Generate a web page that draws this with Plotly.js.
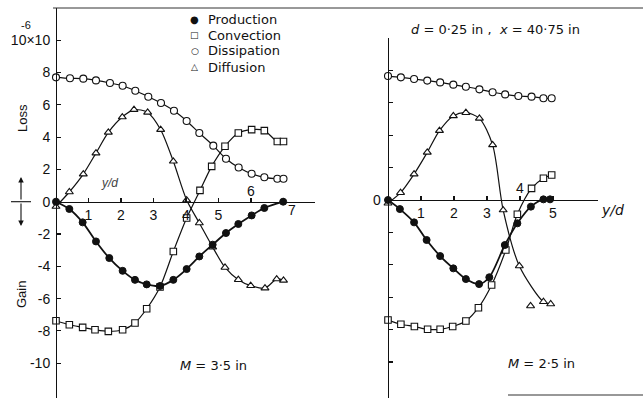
<!DOCTYPE html>
<html>
<head>
<meta charset="utf-8">
<script src="https://cdn.plot.ly/plotly-3.0.1.min.js"></script>
<style>
  html, body { margin: 0; padding: 0; background: #fff; }
  #chart { width: 643px; height: 398px; }
</style>
</head>
<body>
<div id="chart"></div>
<script>
// Turbulent energy balance across the wake, two mesh sizes (values in units of 10^-6)

// --- M = 3.5 in ---
const prodX_A = [0, 0.41, 0.82, 1.23, 1.64, 2.05, 2.43, 2.79, 3.2, 3.61, 4.02, 4.41, 4.82, 5.23, 5.61, 6.02, 6.41, 6.99];
const prodY_A = [0, -0.45, -1.28, -2.46, -3.49, -4.28, -4.84, -5.12, -5.22, -4.84, -4.17, -3.39, -2.66, -1.94, -1.38, -0.85, -0.39, 0];

const convX_A = [0, 0.41, 0.82, 1.2, 1.61, 2.05, 2.43, 2.79, 3.2, 3.61, 4.02, 4.43, 4.79, 5.2, 5.61, 6.02, 6.41, 6.81, 7.0];
const convY_A = [-7.37, -7.62, -7.78, -7.93, -8.03, -7.93, -7.51, -6.63, -5.28, -3.08, -1.01, 0.7, 2.19, 3.43, 4.25, 4.46, 4.4, 3.73, 3.73];

const dissX_A = [0, 0.43, 0.84, 1.23, 1.66, 2.05, 2.44, 2.84, 3.23, 3.63, 4.02, 4.41, 4.84, 5.23, 5.62, 6.02, 6.41, 6.81, 7.0];
const dissY_A = [7.7, 7.64, 7.62, 7.51, 7.35, 7.18, 6.87, 6.5, 6.11, 5.63, 5.0, 4.25, 3.47, 2.66, 2.12, 1.73, 1.51, 1.42, 1.42];

const diffX_A = [0, 0.41, 0.84, 1.23, 1.61, 2.04, 2.4, 2.82, 3.22, 3.61, 4.02, 4.41, 4.82, 5.2, 5.61, 5.99, 6.43, 6.79, 7.0];
const diffY_A = [-0.3, 0.6, 1.71, 3.01, 4.29, 5.24, 5.7, 5.53, 4.46, 2.5, 0.1, -1.32, -2.81, -4.07, -4.83, -5.2, -5.35, -4.79, -4.87];

// --- M = 2.5 in ---
const prodX_B = [0, 0.36, 0.79, 1.17, 1.58, 1.98, 2.36, 2.76, 3.07, 3.54, 3.92, 4.33, 4.71, 4.91];
const prodY_B = [0, -0.56, -1.38, -2.47, -3.46, -4.22, -4.88, -5.19, -4.77, -2.78, -1.44, -0.41, 0.04, 0.04];

const convX_B = [0, 0.39, 0.8, 1.2, 1.58, 1.96, 2.36, 2.74, 3.14, 3.57, 3.92, 4.35, 4.71, 4.96];
const convY_B = [-7.41, -7.67, -7.81, -7.98, -7.98, -7.81, -7.47, -6.65, -5.25, -3.09, -0.88, 0.72, 1.34, 1.54];

const dissX_B = [0, 0.39, 0.79, 1.19, 1.58, 1.98, 2.36, 2.77, 3.17, 3.55, 3.95, 4.35, 4.71, 4.96];
const dissY_B = [7.65, 7.57, 7.47, 7.37, 7.26, 7.12, 6.99, 6.83, 6.65, 6.52, 6.42, 6.38, 6.28, 6.28];

const diffX_B = [0, 0.38, 0.79, 1.19, 1.56, 1.98, 2.36, 2.77, 3.17, 3.49, 3.98, 4.71, 4.93];
const diffY_B = [-0.2, 0.45, 1.6, 2.94, 4.28, 5.19, 5.39, 5.04, 3.4, -0.62, -4.07, -6.28, -6.42];
// one diffusion reading lies off the faired curve
const diffStrayX_B = [4.32];
const diffStrayY_B = [-6.54];

const yTickVals = [-10, -8, -6, -4, -2, 0, 2, 4, 6, 8, 10];
const yTickText = ["-10", "-8", "-6", "-4", "-2", "0", "2", "4", "6", "8", "10×10"];
const xTickValsA = [1, 2, 3, 4, 5, 6, 7];
const xTickTextA = ["1", "2", "3", "4", "5", "", ""];
const xTickValsB = [1, 2, 3, 4, 5];
const xTickTextB = ["1", "2", "3", "", "5"];

const seriesNames = ["Production", "Convection", "Dissipation", "Diffusion"];
const keyGlyphs = ["●", "□", "○", "△"];

const W = 643, H = 398;
const FONT = "Liberation Sans, Arial, sans-serif";
const WIDE = "DejaVu Sans, Liberation Sans, sans-serif";
const INK = "#111";

const markerStyle = {
  Production:  { symbol: "circle",      size: 7,   color: INK,    line: { color: INK, width: 1 } },
  Convection:  { symbol: "square",      size: 6.5, color: "#fff", line: { color: INK, width: 1.1 } },
  Dissipation: { symbol: "circle",      size: 7,   color: "#fff", line: { color: INK, width: 1.1 } },
  Diffusion:   { symbol: "triangle-up", size: 7,   color: "#fff", line: { color: INK, width: 1.1 } }
};
const lineWidth = { Production: 1.8, Convection: 1.2, Dissipation: 1.2, Diffusion: 1.2 };

function curve(name, xs, ys, xa, ya) {
  return {
    type: "scatter", mode: "lines+markers", x: xs, y: ys, xaxis: xa, yaxis: ya,
    name: name, showlegend: false, cliponaxis: false,
    line: { color: INK, width: lineWidth[name], shape: "spline", smoothing: 0.8 },
    marker: markerStyle[name]
  };
}

const traces = [
  curve("Dissipation", dissX_A, dissY_A, "x", "y"),
  curve("Diffusion", diffX_A, diffY_A, "x", "y"),
  curve("Convection", convX_A, convY_A, "x", "y"),
  curve("Production", prodX_A, prodY_A, "x", "y"),
  curve("Dissipation", dissX_B, dissY_B, "x2", "y2"),
  curve("Diffusion", diffX_B, diffY_B, "x2", "y2"),
  {
    type: "scatter", mode: "markers", x: diffStrayX_B, y: diffStrayY_B, xaxis: "x2", yaxis: "y2",
    name: "Diffusion", showlegend: false, marker: markerStyle.Diffusion
  },
  curve("Convection", convX_B, convY_B, "x2", "y2"),
  curve("Production", prodX_B, prodY_B, "x2", "y2")
];

// pixel geometry of the two frames
const zeroA = 201.7, zeroB = 200, pxPerUnitY = 16.15, pxPerUnitYB = 16.2;
const axA = 56, axB = 388, pxPerUnitXA = 32.5, pxPerUnitXB = 33;
const px = v => v / W, py = v => 1 - v / H;

const axisCommon = {
  showgrid: false, zeroline: false, showline: true, linecolor: INK, linewidth: 1.2,
  ticks: "inside", tickcolor: INK, tickwidth: 1.1, ticklen: 4,
  tickfont: { family: FONT, size: 14, color: INK }, anchor: "free", fixedrange: true
};

const ann = (text, x, y, opt) => Object.assign({
  text: text, x: x, y: y, xref: "paper", yref: "paper", showarrow: false,
  font: { family: WIDE, size: 13, color: INK }, xanchor: "center", yanchor: "middle"
}, opt || {});

// key: symbol glyph plus series name, one row per series
const keyRows = [];
seriesNames.forEach((n, i) => {
  const yPix = 19 + 16 * i;
  keyRows.push(ann(keyGlyphs[i], px(195), py(yPix), { font: { family: WIDE, size: i === 0 ? 10 : 9, color: INK } }));
  keyRows.push(ann(n, px(206), py(yPix), { xanchor: "left", font: { family: WIDE, size: 13, color: INK } }));
});

const layout = {
  width: W, height: H,
  margin: { l: 0, r: 0, t: 0, b: 0 },
  paper_bgcolor: "#fff", plot_bgcolor: "rgba(0,0,0,0)",
  font: { family: FONT, color: INK },
  showlegend: false,
  xaxis: Object.assign({}, axisCommon, {
    domain: [px(axA), px(315)], range: [0, (315 - axA) / pxPerUnitXA],
    position: py(zeroA), tickvals: xTickValsA, ticktext: xTickTextA
  }),
  yaxis: Object.assign({}, axisCommon, {
    domain: [0, py(8)], range: [(zeroA - H) / pxPerUnitY, (zeroA - 8) / pxPerUnitY],
    position: px(axA), tickvals: yTickVals, ticktext: yTickText, ticklabelstandoff: 3
  }),
  xaxis2: Object.assign({}, axisCommon, {
    domain: [px(axB), px(598)], range: [0, (598 - axB) / pxPerUnitXB],
    position: py(zeroB), tickvals: xTickValsB, ticktext: xTickTextB
  }),
  yaxis2: Object.assign({}, axisCommon, {
    domain: [0, py(zeroB - 10 * pxPerUnitYB)], range: [(zeroB - H) / pxPerUnitYB, 10],
    position: px(axB), tickvals: yTickVals, showticklabels: false
  }),
  shapes: [
    // frame rule along the top
    { type: "line", xref: "paper", yref: "paper", x0: px(53), x1: 1, y0: py(8), y1: py(8),
      line: { color: "#333", width: 1 } },
    // rule along the lower right
    { type: "line", xref: "paper", yref: "paper", x0: px(508), x1: 1, y0: py(395), y1: py(395),
      line: { color: "#333", width: 1.2 } },
    // short stub of the zero line left of the scale
    { type: "line", xref: "paper", yref: "paper", x0: px(11), x1: px(31), y0: py(zeroA), y1: py(zeroA),
      line: { color: INK, width: 1.1 } }
  ],
  annotations: keyRows.concat([
    ann("-6", px(26), py(25), { font: { family: FONT, size: 11, color: INK } }),
    ann("Loss", px(22), py(118), { textangle: -90, font: { family: FONT, size: 13, color: INK } }),
    ann("Gain", px(21), py(295), { textangle: -90, font: { family: FONT, size: 13, color: INK } }),
    // loss / gain direction arrows
    ann("", px(21), py(177), { showarrow: true, ax: 0, ay: 24, arrowhead: 2, arrowsize: 1, arrowwidth: 1.1, arrowcolor: INK }),
    ann("", px(21), py(226), { showarrow: true, ax: 0, ay: -24, arrowhead: 2, arrowsize: 1, arrowwidth: 1.1, arrowcolor: INK }),
    ann("<i>y/d</i>", px(110), py(183), { font: { family: FONT, size: 12, color: "#444" } }),
    ann("6", 6, 0, { xref: "x", yref: "y", yshift: 11, font: { family: FONT, size: 14, color: INK } }),
    ann("7", 7, 0, { xref: "x", yref: "y", xshift: 8, yshift: -8, font: { family: FONT, size: 14, color: INK } }),
    ann("<i>M</i> = 3·5 in", px(213), py(365)),
    ann("0", px(377), py(zeroB), { font: { family: FONT, size: 14, color: INK } }),
    ann("4", 4, 0, { xref: "x2", yref: "y2", yshift: 12, font: { family: FONT, size: 14, color: INK } }),
    ann("<i>y/d</i>", px(612), py(210), { font: { family: WIDE, size: 14, color: INK } }),
    ann("<i>d</i> = 0·25 in ,  <i>x</i> = 40·75 in", px(496), py(29)),
    ann("<i>M</i> = 2·5 in", px(541), py(363))
  ])
};

Plotly.newPlot("chart", traces, layout, { staticPlot: true, displayModeBar: false });
</script>
</body>
</html>
